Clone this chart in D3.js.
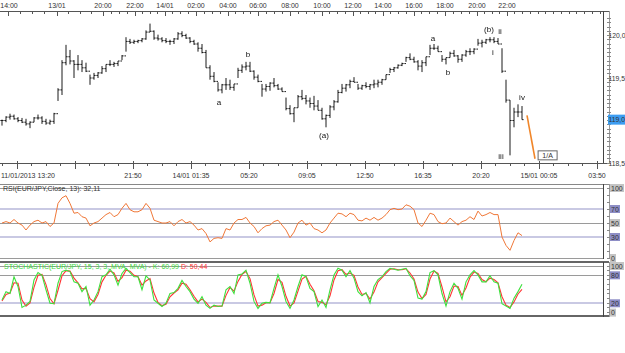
<!DOCTYPE html>
<html>
<head>
<meta charset="utf-8">
<title>EUR/JPY</title>
<style>
    body { margin: 0; background: #fff; }
    svg { display: block; }
    text { font-family: "Liberation Sans", Arial, sans-serif; font-size: 7px; fill: #333; }
    .waves { filter: grayscale(1); }
    .wave { font-size: 8px; fill: #111; }
    .pax { font-size: 6.8px; }
</style>
<script src="https://cdn.jsdelivr.net/npm/d3@7"></script>
</head>
<body>
<script>
// ---- data (one slot = one bar on the chart) ----
const priceHigh = [119.01,119.05,119.08,119.07,119.04,119.03,119.02,118.99,119.04,119.07,
    119.05,119.02,119.01,119.09,119.38,119.71,119.89,119.83,119.71,119.77,
    119.71,119.68,119.54,119.56,119.57,119.64,119.66,119.71,119.69,119.70,
    119.77,119.98,119.96,119.95,119.95,119.97,120.06,120.14,120.06,120.01,
    119.98,119.97,119.95,119.97,120.04,120.05,120.02,119.98,119.95,119.92,
    119.90,119.83,119.65,119.57,119.45,119.43,119.50,119.48,119.43,119.62,
    119.66,119.69,119.69,119.59,119.54,119.43,119.43,119.45,119.50,119.43,
    119.39,119.27,119.18,119.15,119.30,119.36,119.30,119.27,119.29,119.24,
    119.15,119.07,119.18,119.24,119.36,119.43,119.43,119.48,119.51,119.43,
    119.42,119.45,119.43,119.48,119.48,119.49,119.54,119.62,119.63,119.66,
    119.68,119.75,119.79,119.75,119.71,119.71,119.75,119.89,119.90,119.88,
    119.77,119.74,119.81,119.83,119.77,119.78,119.83,119.85,119.85,119.96,
    119.95,119.96,119.98,119.98,119.97,119.85,119.48,119.24,119.15,119.19,
    119.17];
const priceLow = [118.94,118.98,119.01,119.01,118.98,118.97,118.94,118.91,118.98,119.01,
    118.96,118.95,118.95,118.96,119.23,119.30,119.65,119.66,119.50,119.59,
    119.57,119.57,119.42,119.48,119.50,119.55,119.57,119.64,119.63,119.64,
    119.71,119.81,119.90,119.90,119.91,119.92,119.95,120.04,119.95,119.94,
    119.92,119.91,119.89,119.90,119.95,119.98,119.96,119.91,119.89,119.81,
    119.79,119.62,119.48,119.45,119.34,119.32,119.36,119.36,119.35,119.50,
    119.56,119.59,119.57,119.48,119.45,119.28,119.34,119.35,119.39,119.36,
    119.34,119.12,119.07,118.98,119.15,119.24,119.19,119.15,119.12,119.12,
    119.01,118.92,119.03,119.12,119.21,119.32,119.34,119.38,119.45,119.36,
    119.36,119.38,119.36,119.38,119.39,119.42,119.48,119.56,119.57,119.61,
    119.64,119.69,119.71,119.68,119.59,119.57,119.64,119.77,119.83,119.81,
    119.69,119.66,119.74,119.75,119.68,119.69,119.75,119.77,119.78,119.88,
    119.86,119.90,119.92,119.91,119.90,119.56,119.21,118.59,118.92,119.04,
    119.01];
const priceClose = [119.00,119.04,119.05,119.02,119.00,118.98,118.96,118.98,119.03,119.03,
    118.99,118.97,118.99,119.08,119.36,119.68,119.75,119.70,119.66,119.66,
    119.62,119.58,119.50,119.53,119.56,119.61,119.66,119.66,119.67,119.70,
    119.76,119.93,119.92,119.93,119.94,119.96,120.04,120.05,119.97,119.96,
    119.94,119.93,119.93,119.96,120.02,120.00,119.97,119.93,119.90,119.85,
    119.80,119.62,119.52,119.46,119.36,119.42,119.42,119.39,119.43,119.59,
    119.63,119.64,119.58,119.51,119.46,119.37,119.40,119.44,119.41,119.37,
    119.34,119.14,119.08,119.15,119.28,119.26,119.23,119.20,119.17,119.12,
    119.02,119.06,119.16,119.22,119.33,119.38,119.42,119.46,119.45,119.38,
    119.41,119.40,119.42,119.43,119.45,119.48,119.54,119.60,119.62,119.65,
    119.67,119.74,119.72,119.69,119.64,119.68,119.75,119.85,119.85,119.81,
    119.72,119.74,119.79,119.76,119.72,119.77,119.81,119.81,119.84,119.91,
    119.92,119.95,119.95,119.93,119.90,119.58,119.24,119.00,119.10,119.10,
    119.01];
const rsiValues = [50,52,50,55,50,47,40,47,52,54,
    50,52,45,50,78,86,89,78,64,65,
    59,57,46,50,52,57,62,65,59,62,
    71,78,69,66,66,69,78,71,54,52,
    50,50,52,46,52,55,50,52,47,40,
    42,35,23,28,29,28,42,40,50,55,
    55,58,50,45,36,42,46,47,52,54,
    47,40,29,37,50,54,47,50,42,40,
    36,40,50,57,64,63,59,64,62,54,
    53,57,54,58,54,57,62,69,71,69,
    70,76,74,69,50,45,54,64,62,52,
    49,50,57,52,47,52,54,59,55,67,
    60,62,65,62,62,30,18,11,25,36,
    32];
const stochK = [27,45,41,77,56,11,16,24,70,86,
    80,49,20,19,63,88,91,88,66,63,
    45,56,16,27,45,77,81,93,81,59,
    84,95,86,77,77,49,79,70,27,20,
    13,20,41,43,52,69,56,45,29,20,
    34,16,9,16,13,14,49,56,41,81,
    83,91,63,24,9,20,22,21,52,81,
    56,24,9,27,56,81,77,52,45,13,
    27,11,49,81,95,91,77,90,74,45,
    36,43,21,56,71,77,88,95,93,91,
    93,95,79,69,31,29,45,86,90,81,
    41,14,45,63,52,29,66,81,90,81,
    66,66,79,66,63,19,14,9,31,45,
    61];
const stochD = [25,39,42,64,63,27,14,21,54,80,
    82,60,30,19,48,79,90,89,74,64,
    51,52,30,23,39,66,80,89,85,67,
    75,91,89,80,77,59,68,73,42,22,
    15,18,34,42,49,63,61,49,35,23,
    29,22,11,14,14,14,37,54,46,67,
    82,88,73,38,14,16,21,21,41,71,
    65,35,14,21,46,72,78,61,47,24,
    22,17,36,70,90,92,82,85,80,55,
    39,41,29,44,66,75,84,93,94,92,
    92,94,85,72,44,30,39,72,89,84,
    55,23,34,57,56,37,53,76,87,84,
    71,66,74,71,64,34,16,11,23,40,
    50];

const topLabels = ["14:00","13/01","20:00","22:00","14/01","02:00","04:00","06:00","08:00","10:00","12:00","14:00","16:00","18:00","20:00","22:00"];
const topLabelSlots = [1.5,13.75,25.25,33.25,40.75,48.5,56.5,64,72,80,87.75,95.25,103,110.75,118.75,126.25];
const bottomLabels = ["11/01/2013 13:20","","21:50","14/01 01:35","05:20","09:05","12:50","16:35","20:20","15/01 00:05","03:50"];
const bottomLabelSlots = [3.75,18.25,32.75,47.25,61.75,76.25,90.75,105.25,119.75,134.25,148.75];
const priceTicks = [118.5,119.0,119.5,120.0];
const priceTickLabels = ["118,5","119,0","119,5","120,0"];
const rsiLevels = [100,70,50,30,0];
const stochLevels = [100,80,20,0];

const waveText = ["a","b","(a)","a","b","(b)","ii","i","iii","iv"];
const waveSlot = [54.25,61.5,80.5,107.75,111.5,121.75,124.5,122.75,124.75,130];
const wavePrice = [119.22,119.78,118.83,119.97,119.57,120.08,120.05,119.81,118.58,119.28];
const projSlot = [131.25,133.25];
const projPrice = [119.06,118.55];
const targetLabel = "1/A";
const targetSlot = 136.4, targetPrice = 118.59;

// ---- scales ----
const W = 625, H = 353, right = 603;
const x = d3.scaleLinear().domain([-0.5, 150.25]).range([0, right]);
const yP = d3.scaleLinear().domain([118.5, 120]).range([163, 35.5]);
const yR = d3.scaleLinear().domain([0, 100]).range([258, 188]);
const yS = d3.scaleLinear().domain([0, 100]).range([312.6, 266]);

const svg = d3.select('body').append('svg')
    .attr('width', W).attr('height', H);

function hline(y, x1, x2, color, w) {
    svg.append('line').attr('x1', x1).attr('x2', x2).attr('y1', y).attr('y2', y)
        .attr('stroke', color).attr('stroke-width', w || 1).attr('shape-rendering', 'crispEdges');
}
function vline(xx, y1, y2, color, w) {
    svg.append('line').attr('x1', xx).attr('x2', xx).attr('y1', y1).attr('y2', y2)
        .attr('stroke', color).attr('stroke-width', w || 1).attr('shape-rendering', 'crispEdges');
}

// ---- top time axis ----
hline(11, 0, 609, '#555');
let topMinor = [];
topLabelSlots.forEach((p, k) => {
    let next = k < topLabelSlots.length - 1 ? topLabelSlots[k + 1] : null;
    let step = next ? (next - p) / 4 : 7.75 / 4;
    let end = next ? next : 150.25;
    for (let s = p + step; s < end - 0.01; s += step) topMinor.push(s);
});
topMinor.filter(s => x(s) < right).forEach(s => vline(x(s), 11, 14, '#555'));
topLabelSlots.forEach(s => vline(x(s), 11, 16, '#555'));
svg.append('g').selectAll('text').data(topLabels).enter().append('text')
    .attr('x', (d, i) => Math.max(x(topLabelSlots[i]), 9))
    .attr('y', 7.5)
    .attr('text-anchor', 'middle')
    .text(d => d);

// ---- bottom time axis ----
hline(163, 0, 609, '#555');
let botStep = (bottomLabelSlots[2] - bottomLabelSlots[1]) / 4;
for (let s = bottomLabelSlots[0] - botStep; s < 150.25; s += botStep) {
    if (x(s) > 0 && x(s) < right) vline(x(s), 163, 166, '#555');
}
bottomLabelSlots.forEach(s => vline(x(s), 161, 169, '#555'));
svg.append('g').selectAll('text').data(bottomLabels).enter().append('text')
    .attr('x', (d, i) => i === 0 ? 1 : x(bottomLabelSlots[i]))
    .attr('y', 177.5)
    .attr('text-anchor', (d, i) => i === 0 ? 'start' : 'middle')
    .text(d => d);

// ---- price pane frame + right axis ----
vline(right, 11, 163, '#444');
vline(609, 11, 163, '#999');
d3.range(118.5, 120.2, 0.05).forEach(v => {
    if (yP(v) > 13) hline(yP(v), 607, 611, '#888');
});
priceTicks.forEach((v, i) => {
    if (v === 119.0) return;
    svg.append('text').attr('class', 'pax').attr('x', 608.5).attr('y', yP(v) + 2.5).text(priceTickLabels[i]);
});
// last price marker
const last = priceClose[priceClose.length - 1];
svg.append('rect').attr('x', 608).attr('y', yP(last) - 5).attr('width', 17).attr('height', 10)
    .attr('fill', '#3d9df2');
svg.append('text').attr('class', 'pax').attr('x', 608.5).attr('y', yP(last) + 2.5).attr('fill', '#102040')
    .text(d3.format('.1f')(last).replace('.', ','));

// ---- OHLC bars ----
const bars = svg.append('g').attr('stroke', '#1a1a1a').attr('stroke-width', 1);
priceHigh.forEach((h, i) => {
    const cx = x(i);
    const open = i > 0 ? priceClose[i - 1] : priceClose[i];
    bars.append('line').attr('x1', cx).attr('x2', cx).attr('y1', yP(h)).attr('y2', yP(priceLow[i]));
    bars.append('line').attr('x1', cx - 1.6).attr('x2', cx).attr('y1', yP(open)).attr('y2', yP(open));
    bars.append('line').attr('x1', cx).attr('x2', cx + 1.6).attr('y1', yP(priceClose[i])).attr('y2', yP(priceClose[i]));
});

// wave annotations
svg.append('g').attr('class', 'waves').selectAll('text').data(waveText).enter().append('text')
    .attr('class', 'wave')
    .attr('x', (d, i) => x(waveSlot[i]))
    .attr('y', (d, i) => yP(wavePrice[i]) + 3)
    .attr('text-anchor', 'middle')
    .text(d => d);

// projection
svg.append('line')
    .attr('x1', x(projSlot[0])).attr('y1', yP(projPrice[0]))
    .attr('x2', x(projSlot[1])).attr('y2', yP(projPrice[1]))
    .attr('stroke', '#f0862a').attr('stroke-width', 1.6);
svg.append('rect')
    .attr('x', x(targetSlot) - 9.5).attr('y', yP(targetPrice) - 4.5)
    .attr('width', 19).attr('height', 9)
    .attr('fill', '#fff').attr('stroke', '#666').attr('stroke-width', 1);
svg.append('text').attr('x', x(targetSlot)).attr('y', yP(targetPrice) + 2.5)
    .attr('text-anchor', 'middle').attr('fill', '#111').text(targetLabel);

// ---- RSI pane ----
hline(184, 0, 609, '#888');
rsiLevels.forEach(v => {
    const lav = v === 70 || v === 30;
    hline(yR(v), 0, right, lav ? '#c9c9e3' : '#9a9a9a', lav ? 2 : 1);
});
vline(right, 184, 259, '#444');
vline(609, 184, 259, '#999');
d3.range(0, 101, 10).forEach(v => hline(yR(v), 607, 610, '#888'));
svg.append('path')
    .datum(rsiValues)
    .attr('fill', 'none').attr('stroke', '#f07838').attr('stroke-width', 1)
    .attr('d', d3.line().x((d, i) => x(i)).y(d => yR(d)));
svg.append('text').attr('x', 3).attr('y', 190.5).attr('fill', '#f07030')
    .text('RSI(EUR/JPY,Close, 13): 32,11');
rsiLevels.forEach(v => {
    const lav = v === 70 || v === 30;
    const w = String(v).length * 4 + 2;
    svg.append('rect').attr('x', 610).attr('y', yR(v) - 4).attr('width', w).attr('height', 8)
        .attr('fill', lav ? '#8e8ec6' : '#c4c4c4');
    svg.append('text').attr('x', 611).attr('y', yR(v) + 2.5).attr('fill', '#1a1a33').text(v);
});

// ---- Stochastic pane ----
hline(262, 0, 609, '#666', 1.5);
stochLevels.forEach(v => {
    const lav = v === 20;
    if (v === 0) return;
    hline(yS(v), 0, right, lav ? '#c9c9e3' : '#9a9a9a', lav ? 2 : 1);
});
hline(316, 0, 609, '#666', 1.5);
vline(right, 262, 317, '#444');
vline(609, 262, 317, '#999');
d3.range(0, 101, 10).forEach(v => hline(yS(v), 607, 610, '#888'));
const sLine = d3.line().x((d, i) => x(i)).y(d => yS(d));
svg.append('path').datum(stochD)
    .attr('fill', 'none').attr('stroke', '#ff3434').attr('stroke-width', 1.1).attr('d', sLine);
svg.append('path').datum(stochK)
    .attr('fill', 'none').attr('stroke', '#3ee03e').attr('stroke-width', 1.1).attr('d', sLine);
const leg = svg.append('text').attr('x', 4).attr('y', 268.5);
leg.append('tspan').attr('fill', '#3cd83c').text('STOCHASTIC(EUR/JPY, 15, 3, 3, MVA, MVA) - K: 60,99 ');
leg.append('tspan').attr('fill', '#ff3030').text('D: 50,44');
stochLevels.forEach(v => {
    const lav = v === 80 || v === 20;
    const w = String(v).length * 4 + 2;
    svg.append('rect').attr('x', 610).attr('y', yS(v) - 4).attr('width', w).attr('height', 8)
        .attr('fill', lav ? '#8e8ec6' : '#c4c4c4');
    svg.append('text').attr('x', 611).attr('y', yS(v) + 2.5).attr('fill', '#1a1a33').text(v);
});
</script>
</body>
</html>
